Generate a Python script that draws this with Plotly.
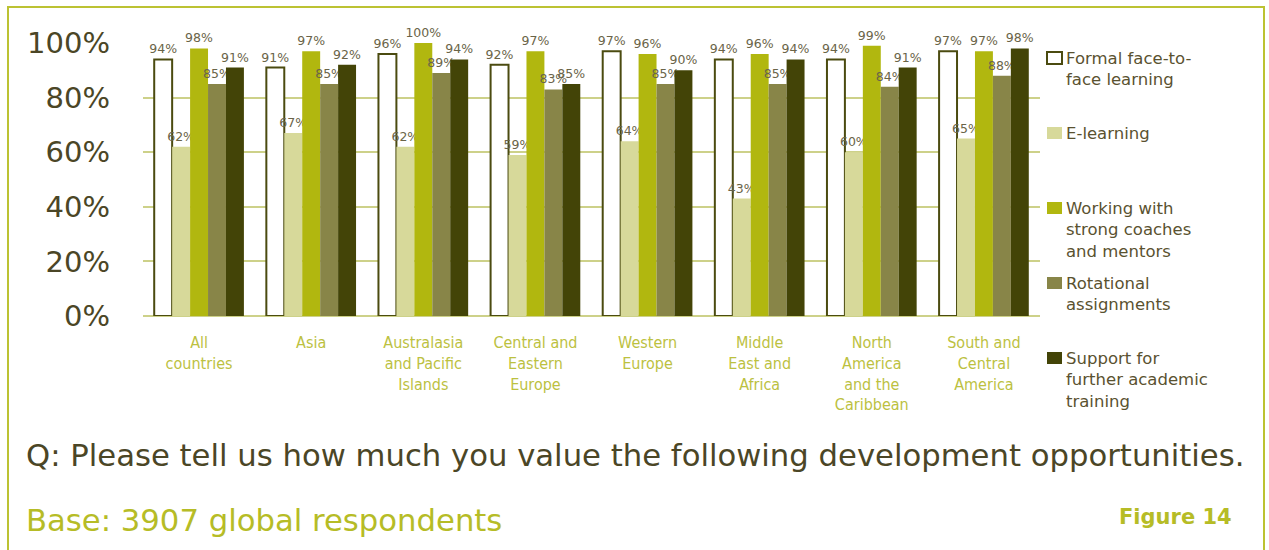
import plotly.graph_objects as go

categories = ["All<br>countries", "Asia", "Australasia<br>and Pacific<br>Islands",
              "Central and<br>Eastern<br>Europe", "Western<br>Europe",
              "Middle<br>East and<br>Africa", "North<br>America<br>and the<br>Caribbean",
              "South and<br>Central<br>America"]

series_names = ["Formal face-to-<br>face learning", "E-learning",
                "Working with<br>strong coaches<br>and mentors",
                "Rotational<br>assignments",
                "Support for<br>further academic<br>training"]

formal = [94, 91, 96, 92, 97, 94, 94, 97]
elearning = [62, 67, 62, 59, 64, 43, 60, 65]
coaches = [98, 97, 100, 97, 96, 96, 99, 97]
rotational = [85, 85, 89, 83, 85, 85, 84, 88]
support = [91, 92, 94, 85, 90, 94, 91, 98]

y_ticks = [0, 20, 40, 60, 80, 100]
y_tick_text = ["0%", "20%", "40%", "60%", "80%", "100%"]

series_values = [formal, elearning, coaches, rotational, support]
fills = ["#ffffff", "#d7d99a", "#b1b70f", "#888548", "#434407"]
line_w = [2, 0, 0, 0, 0]

W, H = 1269, 550
L, R, T, B = 143, 1040, 43, 316

def px_x(p):
    return (p - L) / (R - L)

def px_y(p):
    return (B - p) / (B - T)

fig = go.Figure()
for name, vals, fc, lw in zip(series_names, series_values, fills, line_w):
    fig.add_trace(go.Bar(
        x=categories, y=vals, name=name,
        marker=dict(color=fc, line=dict(color="#4b4b10", width=lw)),
        text=[f"{v}%" for v in vals], textposition="outside",
        textfont=dict(family="DejaVu Sans", size=12.5, color="#6a6448"),
        constraintext="none", cliponaxis=False, showlegend=False,
    ))

fig.update_layout(
    width=W, height=H,
    margin=dict(l=L, r=W - R, t=T, b=H - B, pad=0),
    barmode="group", bargap=0.2, bargroupgap=0,
    plot_bgcolor="white", paper_bgcolor="white",
    showlegend=False,
)
fig.update_yaxes(range=[0, 100], tickvals=y_ticks, ticktext=y_tick_text,
                 showgrid=True, gridcolor="#cdd189", gridwidth=1.5,
                 zeroline=True, zerolinecolor="#cdd189", zerolinewidth=1.5,
                 showline=False, ticks="", ticklabelstandoff=32,
                 tickfont=dict(family="DejaVu Sans", size=29, color="#4b4626"))
fig.update_xaxes(showline=False, ticks="", ticklabelstandoff=15,
                 tickfont=dict(family="Liberation Sans Narrow, DejaVu Sans Condensed, Arial Narrow, sans-serif",
                               size=16, color="#bcc13f"))

shapes = []
# outer frame
shapes.append(dict(type="rect", xref="paper", yref="paper",
                   x0=px_x(8), x1=px_x(1264), y0=px_y(600), y1=px_y(7),
                   line=dict(color="#bcc232", width=2), fillcolor="rgba(0,0,0,0)", layer="below"))

legend_tops = [52, 127, 202, 277, 352]
annotations = []
for i, (name, fc) in enumerate(zip(series_names, fills)):
    top = legend_tops[i]
    shapes.append(dict(type="rect", xref="paper", yref="paper",
                       x0=px_x(1047), x1=px_x(1062), y0=px_y(top + 12), y1=px_y(top),
                       fillcolor=fc, line=dict(color="#4b4b10" if i == 0 else fc, width=2 if i == 0 else 0)))
    annotations.append(dict(xref="paper", yref="paper", x=px_x(1064), y=px_y(top - 5),
                            xanchor="left", yanchor="top", align="left", showarrow=False,
                            text=name, font=dict(family="DejaVu Sans", size=16.5, color="#5a5230")))

annotations.append(dict(xref="paper", yref="paper", x=px_x(24), y=px_y(455),
                        xanchor="left", yanchor="middle", showarrow=False,
                        text="Q: Please tell us how much you value the following development opportunities.",
                        font=dict(family="DejaVu Sans", size=30.7, color="#4b4626")))
annotations.append(dict(xref="paper", yref="paper", x=px_x(24), y=px_y(520),
                        xanchor="left", yanchor="middle", showarrow=False,
                        text="Base: 3907 global respondents",
                        font=dict(family="DejaVu Sans", size=30.7, color="#b6bc26")))
annotations.append(dict(xref="paper", yref="paper", x=px_x(1234), y=px_y(517),
                        xanchor="right", yanchor="middle", showarrow=False,
                        text="<b>Figure 14</b>",
                        font=dict(family="DejaVu Sans", size=21, color="#b6bc26")))

fig.update_layout(shapes=shapes, annotations=annotations)
fig.write_html("out.html")
